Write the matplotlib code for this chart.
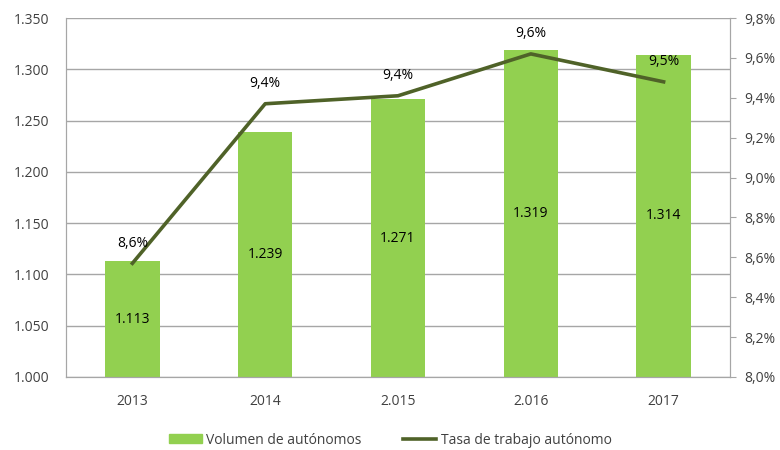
import matplotlib
matplotlib.use("Agg")
import matplotlib.pyplot as plt
from matplotlib.ticker import FuncFormatter
from matplotlib.patches import Patch
from matplotlib.lines import Line2D

plt.rcParams['font.family'] = ['Open Sans', 'DejaVu Sans']

categories = ["2013", "2014", "2.015", "2.016", "2017"]
volumen = [1.113, 1.239, 1.271, 1.319, 1.314]
tasa = [8.57, 9.37, 9.41, 9.62, 9.48]
tasa_labels = ["8,6%", "9,4%", "9,4%", "9,6%", "9,5%"]
vol_labels = ["1.113", "1.239", "1.271", "1.319", "1.314"]

bar_color = "#92D050"
line_color = "#4F6228"
grid_color = "#A6A6A6"
text_color = "#404040"

fig = plt.figure(figsize=(7.8, 4.5), dpi=100)
ax = fig.add_axes([66/780, 1 - 377/450, (730-66)/780, (377-18)/450])
x = list(range(len(categories)))
ax.bar(x, volumen, width=0.41, color=bar_color, zorder=2)
ax.set_ylim(1.0, 1.35)
ax.set_xlim(-0.5, len(categories) - 0.5)
ax.set_yticks([1.0 + 0.05 * i for i in range(8)])
ax.yaxis.set_major_formatter(FuncFormatter(lambda v, p: f"{v:.3f}"))
ax.grid(axis='y', color=grid_color, lw=1, zorder=0)
ax.set_axisbelow(True)
ax.set_xticks(x)
ax.set_xticklabels(categories)
ax.tick_params(axis='x', length=0, pad=12, labelsize=10, colors=text_color)
ax.tick_params(axis='y', length=0, pad=12, labelsize=10, colors=text_color)
for s in ['left', 'bottom', 'right', 'top']:
    ax.spines[s].set_color(grid_color)
ax.spines['top'].set_visible(False)

for xi, v, lab in zip(x, volumen, vol_labels):
    ax.text(xi, (1.0 + v) / 2, lab, ha='center', va='center', fontsize=10, color='black', zorder=5)

ax2 = ax.twinx()
ax2.plot(x, tasa, color=line_color, lw=2.6, zorder=3)
ax2.set_ylim(8.0, 9.8)
ax2.set_yticks([8.0 + 0.2 * i for i in range(10)])
ax2.yaxis.set_major_formatter(FuncFormatter(lambda v, p: f"{v:.1f}%".replace(".", ",")))
ax2.tick_params(axis='y', length=4, color=grid_color, pad=6, labelsize=10, labelcolor=text_color)
for s in ['left', 'bottom', 'right', 'top']:
    ax2.spines[s].set_color(grid_color)
ax2.spines['top'].set_visible(False)
for xi, v, lab in zip(x, tasa, tasa_labels):
    ax2.annotate(lab, (xi, v), xytext=(0, 9), textcoords='offset points',
                 ha='center', va='bottom', fontsize=10, color='black')

handles = [Patch(color=bar_color, label="Volumen de autónomos"),
           Line2D([0], [0], color=line_color, lw=2.6, label="Tasa de trabajo autónomo")]
fig.legend(handles=handles, loc='center', bbox_to_anchor=(0.5, 1 - 440/450), ncol=2,
           frameon=False, fontsize=10, handlelength=2.4, handleheight=0.6, columnspacing=3,
           handletextpad=0.3, labelcolor=text_color)

fig.savefig("out.png", dpi=100)
